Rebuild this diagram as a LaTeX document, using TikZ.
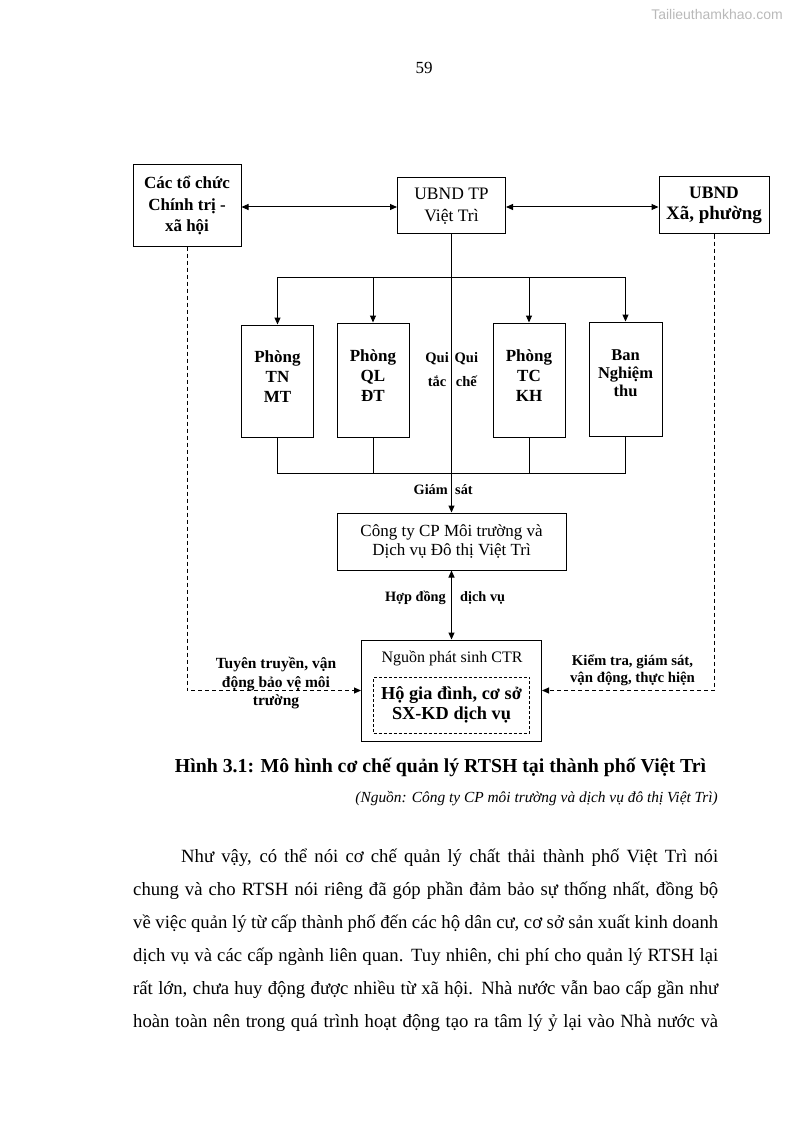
\documentclass[tikz,border=0pt]{standalone}
\usepackage{fontspec}
\setmainfont{Liberation Serif}
\newfontfamily\wmfont{Liberation Sans}
\usetikzlibrary{arrows.meta}
\tikzset{
  box/.style={draw, line width=1pt, inner sep=0pt, align=center},
  bt/.style={font=\fontsize{17}{21}\selectfont\bfseries, align=center, inner sep=0pt},
  lab/.style={font=\fontsize{14.3}{17.5}\selectfont\bfseries, align=center, inner sep=0pt},
  arr/.style={-{Triangle[length=7pt,width=6pt]}, line width=1pt},
  darr/.style={{Triangle[length=7pt,width=6pt]}-{Triangle[length=7pt,width=6pt]}, line width=1pt},
  dsh/.style={dash pattern=on 4pt off 3pt, line width=1pt},
  bodyline/.style={anchor=base west, inner sep=0pt, font=\fontsize{18.7}{33}\selectfont},
}
\begin{document}
\begin{tikzpicture}[x=1pt,y=-1pt]
\useasboundingbox (0,0) rectangle (794,1123);
% watermark and page number
\node[inner sep=0pt, font=\wmfont\fontsize{14}{16}\selectfont, text=gray!55] (wm) at (717,14) {Tailieuthamkhao.com};
\node[inner sep=0pt, font=\fontsize{17}{20}\selectfont] (pg) at (424,68) {59};
% top row
\node[box, font=\fontsize{17}{21.5}\selectfont\bfseries, minimum width=108, minimum height=81] (ctc) at (187,205.5) {Các tổ chức\\Chính trị -\\xã hội};
\node[box, font=\fontsize{17.5}{21.5}\selectfont, minimum width=108, minimum height=56] (ubtp) at (451.5,206) {UBND TP\\Việt Trì};
\node[box, font=\fontsize{17.5}{21.5}\selectfont\bfseries, minimum width=110, minimum height=57] (ubx) at (714,205.5) {UBND\\{\fontsize{19}{21.5}\selectfont Xã, phường}};
% departments
\node[box, minimum width=72, minimum height=112] (p1) at (277.5,381) {};
\node[box, minimum width=72, minimum height=114] (p2) at (373,380) {};
\node[box, minimum width=72, minimum height=114] (p3) at (529,380) {};
\node[box, minimum width=73, minimum height=114] (p4) at (625.5,379) {};
\node[bt, font=\fontsize{17}{20}\selectfont\bfseries] (p1t) at (p1.center) [yshift=4pt] {Phòng\\TN\\MT};
\node[bt, font=\fontsize{17}{20}\selectfont\bfseries] (p2t) at (p2.center) [yshift=4pt] {Phòng\\QL\\ĐT};
\node[bt, font=\fontsize{17}{20}\selectfont\bfseries] (p3t) at (p3.center) [yshift=4pt] {Phòng\\TC\\KH};
\node[bt, font=\fontsize{16.5}{18}\selectfont\bfseries] (p4t) at (p4.center) [yshift=6pt] {Ban\\Nghiệm\\thu};
% company
\node[box, font=\fontsize{17}{19}\selectfont, minimum width=229, minimum height=57] (cty) at (451.5,541.5) {Công ty CP Môi trường và\\Dịch vụ Đô thị Việt Trì};
% source box
\node[box, minimum width=180, minimum height=101] (ng) at (451.5,690.5) {};
\node[inner sep=0pt, font=\fontsize{16}{19}\selectfont] (ngt) at (452,658) {Nguồn phát sinh CTR};
\node[draw, dash pattern=on 3pt off 2pt, line width=0.9pt, inner sep=0pt, minimum width=156, minimum height=56, align=center, font=\fontsize{18.3}{20.5}\selectfont\bfseries] (hgd) at (451.5,705) {Hộ gia đình, cơ sở\\SX-KD dịch vụ};
% connectors top
\draw[darr] (ctc.east |- 0,207) -- (ubtp.west |- 0,207);
\draw[darr] (ubtp.east |- 0,207) -- (ubx.west |- 0,207);
\draw[arr] (ubtp.south) -- (cty.north);
\coordinate (tL) at (277.5,277);
\coordinate (tR) at (625.5,277);
\draw[line width=1pt] (tL) -- (tR);
\draw[arr] (tL) -- (p1.north);
\draw[arr] (p2.north |- tL) -- (p2.north);
\draw[arr] (p3.north |- tL) -- (p3.north);
\draw[arr] (tR) -- (p4.north);
\coordinate (bL) at (277.5,473.5);
\draw[line width=1pt] (p1.south) -- (bL) -- (p4.south |- bL) -- (p4.south);
\draw[line width=1pt] (p2.south) -- (p2.south |- bL);
\draw[line width=1pt] (p3.south) -- (p3.south |- bL);
\draw[darr] (cty.south) -- (ng.north);
% dashed side lines
\draw[dsh, -{Triangle[length=7pt,width=6pt]}] (ctc.south) |- (ng.west);
\draw[dsh, -{Triangle[length=7pt,width=6pt]}] (ubx.south) |- (ng.east);
% labels
\node[lab, anchor=east, font=\fontsize{14.5}{24}\selectfont\bfseries] (qt) at (449,370) {Qui\\tắc};
\node[lab, anchor=west, font=\fontsize{14.5}{24}\selectfont\bfseries] (qc) at (454.5,370) {Qui\\chế};
\node[lab, anchor=east] (gm) at (448,490) {Giám};
\node[lab, anchor=west] (st) at (455,490) {sát};
\node[lab, anchor=east] (hd) at (446,598) {Hợp đồng};
\node[lab, anchor=west] (dv) at (460,598) {dịch vụ};
\node[lab, font=\fontsize{15.5}{18.5}\selectfont\bfseries] (tt) at (276,683.5) {Tuyên truyền, vận\\động bảo vệ môi\\trường};
\node[lab, font=\fontsize{14.8}{17}\selectfont\bfseries] (kt) at (632.5,670.5) {Kiểm tra, giám sát,\\vận động, thực hiện};
% caption
\node[inner sep=0pt, anchor=base, font=\fontsize{19.8}{22}\selectfont\bfseries] (cap) at (440.5,772) {Hình 3.1: Mô hình cơ chế quản lý RTSH tại thành phố Việt Trì};
\node[inner sep=0pt, anchor=base east, font=\fontsize{15.4}{18}\selectfont\itshape] (src) at (718,802) {(Nguồn: Công ty CP môi trường và dịch vụ đô thị Việt Trì)};
% body text
\node[bodyline] (l1) at (181,862) {\makebox[537pt][s]{Như vậy, có thể nói cơ chế quản lý chất thải thành phố Việt Trì nói}};
\node[bodyline] (l2) at (133,895) {\makebox[585pt][s]{chung và cho RTSH nói riêng đã góp phần đảm bảo sự thống nhất, đồng bộ}};
\node[bodyline] (l3) at (133,928) {\makebox[585pt][s]{về việc quản lý từ cấp thành phố đến các hộ dân cư, cơ sở sản xuất kinh doanh}};
\node[bodyline] (l4) at (133,961) {\makebox[585pt][s]{dịch vụ và các cấp ngành liên quan. Tuy nhiên, chi phí cho quản lý RTSH lại}};
\node[bodyline] (l5) at (133,994) {\makebox[585pt][s]{rất lớn, chưa huy động được nhiều từ xã hội. Nhà nước vẫn bao cấp gần như}};
\node[bodyline] (l6) at (133,1027) {\makebox[585pt][s]{hoàn toàn nên trong quá trình hoạt động tạo ra tâm lý ỷ lại vào Nhà nước và}};
\end{tikzpicture}
\end{document}
